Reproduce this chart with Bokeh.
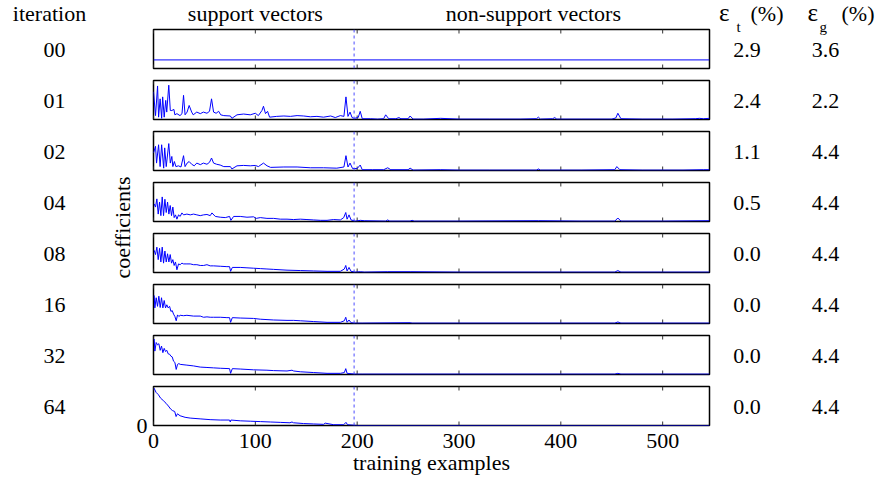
from math import pi
from bokeh.plotting import figure
from bokeh.models import Range1d, LinearAxis, FixedTicker, Span
from bokeh.layouts import row, column
from bokeh.embed import file_html
from bokeh.resources import INLINE
from bokeh.core.properties import value

# ---------------- data ----------------
iterations = ["00", "01", "02", "04", "08", "16", "32", "64"]
err_train = ["2.9", "2.4", "1.1", "0.5", "0.0", "0.0", "0.0", "0.0"]
err_gen = ["3.6", "2.2", "4.4", "4.4", "4.4", "4.4", "4.4", "4.4"]
x_ticks = [0, 100, 200, 300, 400, 500]
n_examples = 546
n_support = 197
region_names = ["support vectors", "non-support vectors"]
region_centers = [100, 373]

# (training example index, coefficient scaled to panel height)
coef_00 = [(0, .22), (546, .22)]
coef_01 = [(0, .71), (2, .10), (4, .86), (5, .06), (6.5, .53), (8, .03), (9, .58), (10.5, .06),
           (12, .49), (13, .19), (15, .88), (16.5, .23), (18, .23), (20, .26), (21, .12), (23, .15),
           (26, .10), (28, .15), (29.5, .62), (31, .12), (33, .19), (35, .36), (37.5, .19), (39, .12),
           (42.5, .19), (46, .15), (49, .19), (52.5, .16), (55, .21), (57, .53), (59, .19), (61.5, .16),
           (64, .21), (66, .12), (69, .10), (75.5, .09), (77, .03), (82, .12), (88.5, .14), (95, .12),
           (100, .16), (103, .10), (106.5, .23), (108, .34), (110, .15), (112, .21), (114, .06),
           (121, .08), (128, .09), (134.5, .08), (141, .10), (147.5, .09), (154, .07), (160.5, .08),
           (167, .06), (174, .09), (178.5, .05), (183.5, .10), (187, .08), (189, .58), (191, .08),
           (193, .19), (195, .05), (197, .03), (201, .05), (203, .21), (205, .02), (213, .02),
           (220, .01), (226, .02), (228, .12), (231, .02), (238, .02), (241, .05), (243, .02),
           (250, .02), (252, .09), (255, .01), (265, .01), (282, .03), (300, .01), (330, .01),
           (360, .01), (376, .02), (378, .06), (380, .01), (392, .02), (394, .05), (396, .01),
           (420, .01), (450, .01), (454, .04), (456, .16), (459, .02), (480, .01), (510, .01),
           (532, .02), (536, .03), (540, .02), (546, .03)]
coef_02 = [(0, .45), (2, .62), (3, .19), (5, .66), (6.5, .10), (8, .66), (10, .06), (11, .58),
           (12.5, .10), (15, .69), (16.5, .19), (18, .36), (19, .10), (20.5, .23), (22, .10),
           (24.5, .12), (27, .09), (29.5, .38), (31, .10), (33, .19), (35, .23), (37.5, .16),
           (40, .12), (42.5, .19), (46, .15), (49, .19), (52.5, .16), (55, .21), (57, .32), (59, .19),
           (62, .16), (65.5, .14), (69, .10), (75.5, .10), (77, .04), (82, .12), (88.5, .13),
           (95, .12), (100, .13), (103, .10), (108, .19), (111.5, .12), (115, .08), (128, .09),
           (141, .09), (154, .07), (167, .07), (180, .06), (187, .09), (189, .38), (191, .09),
           (193, .19), (195.5, .05), (200, .05), (203, .14), (205, .02), (215, .02), (226, .02),
           (230, .07), (233, .02), (245, .02), (250, .02), (252, .06), (255, .01), (282, .02),
           (300, .01), (330, .01), (376, .01), (378, .04), (380, .01), (420, .01), (453, .02),
           (455, .10), (458, .02), (480, .01), (520, .01), (540, .02), (546, .02)]
coef_04 = [(0.66, .45), (1.98, .37), (3.31, .58), (4.62, .19), (5.94, .50), (7.24, .15),
           (8.55, .63), (9.86, .15), (11.2, .57), (12.5, .23), (13.8, .50), (15.1, .19),
           (16.4, .41), (17.7, .15), (19.0, .37), (20.3, .10), (21.6, .17), (23.0, .06),
           (24.6, .17), (26.2, .13), (27.9, .22), (29.5, .17), (32.8, .19), (36.1, .17),
           (39.3, .19), (42.6, .17), (45.9, .15), (49.2, .17), (52.5, .18), (55.7, .15),
           (57.4, .22), (60.7, .13), (65.6, .11), (70.5, .10), (74.7, .13), (76.0, .03),
           (78.7, .13), (85.2, .13), (91.8, .11), (98.3, .12), (100.9, .08), (104.9, .10),
           (111.4, .08), (118, .08), (124.5, .06), (131.1, .06), (137.6, .05), (144.2, .06),
           (150.7, .05), (157.3, .04), (163.9, .03), (170.4, .03), (176.9, .05), (183.5, .04),
           (186.8, .10), (188.8, .23), (190.1, .06), (192, .17), (194, .04), (198.3, .01),
           (203.2, .03), (207, .02), (228, .01), (230, .04), (232, .01), (252, .01), (254, .03),
           (256, .01), (300, .01), (378, .02), (420, .01), (453, .01), (456, .09), (459, .01),
           (500, .01), (546, .02)]
coef_08 = [(0.66, .57), (1.98, .46), (3.31, .65), (4.62, .33), (5.94, .62), (7.24, .27),
           (8.55, .65), (9.86, .24), (11.2, .55), (12.5, .27), (13.8, .48), (15.1, .27),
           (16.4, .46), (17.7, .24), (19.0, .33), (20.3, .18), (21.6, .27), (23.0, .07),
           (24.6, .22), (26.2, .20), (27.9, .24), (29.5, .22), (32.8, .22), (36.1, .22),
           (39.3, .20), (42.6, .20), (45.9, .18), (49.2, .18), (52.5, .20), (55.7, .17),
           (59.0, .17), (65.6, .16), (72.1, .15), (74.7, .15), (75.7, .03), (77.4, .13),
           (85.2, .13), (91.8, .12), (98.3, .11), (104.9, .10), (111.4, .09), (118, .08),
           (131.1, .06), (144.2, .05), (157.3, .04), (170.4, .03), (183.5, .03), (187.4, .09),
           (188.8, .18), (190.1, .04), (192.0, .13), (194, .03), (198.3, .01), (203.2, .02),
           (207, .01), (230, .02), (252, .02), (300, .01), (378, .01), (420, .01), (453, .01),
           (456, .05), (459, .01), (500, .01), (546, .01)]
coef_16 = [(0.66, .72), (1.33, .40), (2.64, .66), (3.95, .44), (5.26, .70), (6.57, .41),
           (7.88, .66), (9.2, .40), (10.5, .59), (11.8, .40), (13.1, .48), (14.4, .40),
           (15.8, .44), (17.1, .31), (18.4, .33), (19.7, .24), (21.0, .18), (22.3, .07),
           (23.6, .22), (24.9, .18), (26.2, .21), (29.5, .20), (32.8, .21), (39.3, .19),
           (45.9, .19), (49.2, .16), (52.5, .17), (55.7, .16), (59.0, .16), (65.6, .16),
           (72.1, .15), (74.7, .15), (75.7, .03), (77.4, .15), (85.2, .14), (98.3, .13),
           (104.9, .11), (118, .09), (131.1, .08), (137.7, .08), (144.2, .07), (157.3, .05),
           (170.4, .03), (183.5, .03), (187.4, .07), (188.8, .16), (190.1, .03), (192, .09),
           (194, .02), (198.3, .01), (205, .01), (252, .02), (254, .01), (300, .01), (378, .01),
           (420, .01), (453, .01), (456, .04), (459, .01), (500, .01), (546, .01)]
coef_32 = [(0.66, .91), (1.33, .60), (2.64, .82), (3.95, .76), (5.26, .79), (6.57, .62),
           (7.88, .73), (9.2, .56), (10.5, .67), (11.8, .59), (13.1, .62), (14.4, .53),
           (15.8, .52), (17.1, .47), (18.4, .45), (19.7, .34), (21.0, .31), (22.3, .13),
           (23.6, .26), (24.9, .28), (26.2, .26), (32.8, .24), (39.3, .22), (45.9, .19),
           (52.5, .18), (59.0, .17), (65.6, .16), (74.7, .15), (75.7, .03), (77.4, .15),
           (85.2, .14), (98.3, .12), (111.4, .11), (118, .10), (131.1, .09), (136.0, .11),
           (137.7, .09), (144.2, .07), (157.3, .05), (170.4, .03), (183.5, .03), (187.4, .05),
           (188.8, .15), (190.1, .03), (194, .02), (198.3, .01), (205, .01), (300, .01),
           (420, .01), (453, .01), (456, .03), (459, .01), (546, .01)]
coef_64 = [(0.5, .96), (2.5, .85), (4.8, .79), (7, .70), (9.6, .64), (12.3, .57), (14.6, .50),
           (16.9, .42), (18.8, .38), (20.8, .36), (22.2, .23), (23.5, .30), (26.1, .25), (31, .21),
           (36, .19), (45.8, .17), (55.6, .15), (65.5, .14), (74.7, .14), (75.4, .09), (76, .14),
           (85.2, .12), (95, .11), (105, .10), (114.7, .09), (124.5, .08), (134, .07), (136, .09),
           (137.5, .07), (147.4, .05), (157, .04), (167, .03), (168.6, .06), (177, .02),
           (186.7, .02), (189, .08), (190.6, .02), (195, .01), (200, 0.0), (546, 0.0)]

series = [coef_00, coef_01, coef_02, coef_04, coef_08, coef_16, coef_32, coef_64]

# ---------------- layout (pixels) ----------------
FONT = "Liberation Serif"
FS = "22px"
TOTAL_W, TOTAL_H = 875, 481
LEFT_W = 133
BL, BR = 20, 6
FRAME_W, FRAME_H = 556, 39
MID_W = BL + FRAME_W + BR
RIGHT_W = TOTAL_W - LEFT_W - MID_W
HEAD_H = 27
GAP = 6
PITCH = FRAME_H + 2 * GAP
N = len(series)
TICK_LEN = 4.0 / FRAME_H
frame_top0 = HEAD_H + 2
frame_bottoms = [frame_top0 + i * PITCH + FRAME_H for i in range(N)]


def mid_of(baseline_px, size_px):
    """vertical centre of a text line whose baseline is at baseline_px (canvas px)"""
    return baseline_px - 0.3375 * size_px


x_range = Range1d(0, n_examples)

# header strip above the panels
head = figure(width=MID_W, height=HEAD_H, x_range=x_range, y_range=Range1d(0, HEAD_H),
              x_axis_type=None, y_axis_type=None, toolbar_location=None,
              output_backend="svg", min_border_left=BL, min_border_right=BR,
              min_border_top=0, min_border_bottom=0)
head.outline_line_color = None
head.text(x=region_centers, y=[HEAD_H - mid_of(20.7, 22)] * 2, text=region_names,
          text_font=value(FONT), text_font_size=value(FS), text_align="center",
          text_baseline="middle", text_color="black")

panels = [head]
for i, data in enumerate(series):
    last = (i == N - 1)
    top = 2 if i == 0 else GAP
    bottom = TOTAL_H - frame_bottoms[-1] if last else GAP
    p = figure(width=MID_W, height=top + FRAME_H + bottom, x_range=x_range,
               y_range=Range1d(0, 1), x_axis_type=None, y_axis_type=None,
               toolbar_location=None, output_backend="svg",
               min_border_left=BL, min_border_right=BR,
               min_border_top=top, min_border_bottom=bottom)
    p.outline_line_color = "black"
    p.outline_line_width = 1.5
    p.border_fill_color = "white"
    p.background_fill_color = "white"
    # inward tick marks on top and bottom edges
    nt = len(x_ticks)
    p.segment(x0=x_ticks, y0=[0] * nt, x1=x_ticks, y1=[TICK_LEN] * nt,
              line_color="#333333", line_width=1)
    p.segment(x0=x_ticks, y0=[1 - TICK_LEN] * nt, x1=x_ticks, y1=[1] * nt,
              line_color="#333333", line_width=1)
    if last:
        ax = LinearAxis(ticker=FixedTicker(ticks=x_ticks), axis_line_color=None,
                        major_tick_line_color=None, minor_tick_line_color=None,
                        major_label_standoff=2, major_label_text_font=FONT,
                        major_label_text_font_size=FS, major_label_text_color="black",
                        axis_label="training examples", axis_label_text_font=FONT,
                        axis_label_text_font_size=FS, axis_label_text_font_style="normal",
                        axis_label_text_color="black", axis_label_standoff=-1)
        p.add_layout(ax, "below")
        ay = LinearAxis(ticker=FixedTicker(ticks=[0]), axis_line_color=None,
                        major_tick_line_color=None, minor_tick_line_color=None,
                        major_label_standoff=0, major_label_text_font=FONT,
                        major_label_text_font_size=FS, major_label_text_color="black")
        p.add_layout(ay, "left")
    xs = [d[0] for d in data]
    ys = [d[1] for d in data]
    p.line(xs, ys, line_color="#0000ff", line_width=1)
    p.add_layout(Span(location=n_support, dimension="height", line_color="#4a4aff",
                      line_dash="3 3", line_width=1))
    panels.append(p)


def side_fig(w):
    f = figure(width=w, height=TOTAL_H, x_range=Range1d(0, w), y_range=Range1d(0, TOTAL_H),
               x_axis_type=None, y_axis_type=None, toolbar_location=None,
               output_backend="svg", min_border=0)
    f.outline_line_color = None
    f.border_fill_color = "white"
    f.background_fill_color = "white"
    return f


row_mid = [TOTAL_H - mid_of(fb - 11, 22) for fb in frame_bottoms]
head_mid = TOTAL_H - mid_of(20.7, 22)

left = side_fig(LEFT_W)
left.text(x=[49], y=[head_mid], text=["iteration"], text_font=value(FONT),
          text_font_size=value(FS), text_align="center", text_baseline="middle",
          text_color="black")
left.text(x=[54] * N, y=row_mid, text=iterations, text_font=value(FONT),
          text_font_size=value(FS), text_align="center", text_baseline="middle",
          text_color="black")
left.text(x=[121.5], y=[TOTAL_H - (frame_top0 + frame_bottoms[-1]) / 2], text=["coefficients"],
          angle=pi / 2, text_font=value(FONT), text_font_size=value(FS), text_align="center",
          text_baseline="middle", text_color="black")

right = side_fig(RIGHT_W)
right.text(x=[31.5] * N, y=row_mid, text=err_train, text_font=value(FONT),
           text_font_size=value(FS), text_align="center", text_baseline="middle",
           text_color="black")
right.text(x=[110] * N, y=row_mid, text=err_gen, text_font=value(FONT),
           text_font_size=value(FS), text_align="center", text_baseline="middle",
           text_color="black")
right.text(x=[3.5, 92], y=[TOTAL_H - mid_of(20.7, 25)] * 2, text=["ε", "ε"],
           text_font=value(FONT), text_font_size=value("25px"), text_align="left",
           text_baseline="middle", text_color="black")
right.text(x=[21, 104], y=[TOTAL_H - mid_of(31.5, 15)] * 2, text=["t", "g"],
           text_font=value(FONT), text_font_size=value("15px"), text_align="left",
           text_baseline="middle", text_color="black")
right.text(x=[35, RIGHT_W - 1], y=[head_mid, head_mid], text=["(%)", "(%)"],
           text_font=value(FONT), text_font_size=value(FS), text_align=["left", "right"],
           text_baseline="middle", text_color="black")

layout = row(left, column(*panels), right)
open("out.html", "w").write(file_html(layout, INLINE, title="coefficients"))
